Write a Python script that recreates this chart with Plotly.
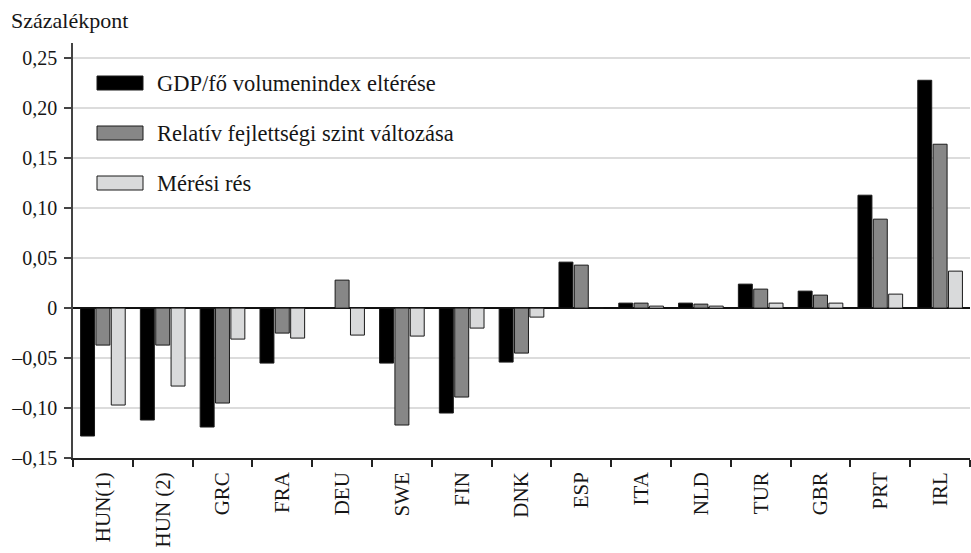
import plotly.graph_objects as go

# ---- data ----
categories = ["HUN(1)", "HUN (2)", "GRC", "FRA", "DEU", "SWE", "FIN", "DNK",
              "ESP", "ITA", "NLD", "TUR", "GBR", "PRT", "IRL"]
gdp_volume_gap = [-0.128, -0.112, -0.119, -0.055, 0.0, -0.055, -0.105, -0.054,
                  0.046, 0.005, 0.005, 0.024, 0.017, 0.113, 0.228]
relative_dev_change = [-0.037, -0.037, -0.095, -0.025, 0.028, -0.117, -0.089, -0.045,
                       0.043, 0.005, 0.004, 0.019, 0.013, 0.089, 0.164]
measurement_gap = [-0.097, -0.078, -0.031, -0.030, -0.027, -0.028, -0.020, -0.009,
                   0.0, 0.002, 0.002, 0.005, 0.005, 0.014, 0.037]
series_names = ["GDP/fő volumenindex eltérése",
                "Relatív fejlettségi szint változása",
                "Mérési rés"]
y_tickvals = [0.25, 0.20, 0.15, 0.10, 0.05, 0.0, -0.05, -0.10, -0.15]
y_ticktext = ["0,25", "0,20", "0,15", "0,10", "0,05", "0", "–0,05", "–0,10", "–0,15"]
y_title = "Százalékpont"

# ---- style ----
colors = ["#000000", "#878787", "#d9dadb"]
FONT = "Liberation Serif, Times New Roman, DejaVu Serif, serif"
TXT = "#161616"
W, H = 971, 553
L, R, T, B = 73, 1, 43, 95

fig = go.Figure()
for name, vals, col in zip(series_names,
                           [gdp_volume_gap, relative_dev_change, measurement_gap],
                           colors):
    fig.add_trace(go.Bar(x=categories, y=vals, name=name, showlegend=False,
                         marker=dict(color=col, line=dict(color="#1a1a1a", width=1))))

def px_x(px):
    return (px - L) / (W - L - R)

def px_y(py):
    return (H - B - py) / (H - T - B)

# custom legend (swatch + label)
shapes = []
annotations = []
for i, (name, col) in enumerate(zip(series_names, colors)):
    cy = 83 + 50 * i
    shapes.append(dict(type="rect", xref="paper", yref="paper",
                       x0=px_x(97), x1=px_x(143), y0=px_y(cy + 7), y1=px_y(cy - 7),
                       fillcolor=col, line=dict(color="#1a1a1a", width=1)))
    annotations.append(dict(xref="paper", yref="paper", x=px_x(155), y=px_y(cy),
                            xanchor="left", yanchor="middle", showarrow=False,
                            text=name, font=dict(family=FONT, size=22.5, color=TXT)))

fig.update_layout(
    width=W, height=H,
    margin=dict(l=L, r=R, t=T, b=B, autoexpand=False),
    paper_bgcolor="white", plot_bgcolor="white",
    barmode="group", bargap=0.23, bargroupgap=0.09,
    font=dict(family=FONT, size=20, color=TXT),
    title=dict(text=y_title, xref="container", yref="container",
               x=11 / W, y=1 - 13 / H, xanchor="left", yanchor="top",
               font=dict(family=FONT, size=22, color=TXT)),
    shapes=shapes, annotations=annotations,
    xaxis=dict(type="category", tickangle=-90, tickson="boundaries",
               ticks="outside", ticklen=7, tickcolor="#222", tickwidth=1.5,
               showline=True, linecolor="#222", linewidth=1.5, ticklabelstandoff=4,
               showgrid=False, tickfont=dict(family=FONT, size=21, color=TXT)),
    yaxis=dict(range=[-0.15, 0.2653], tickvals=y_tickvals, ticktext=y_ticktext,
               ticks="outside", ticklen=7, tickcolor="#444", tickwidth=1.5,
               showline=True, linecolor="#444", linewidth=1.5, ticklabelstandoff=3,
               showgrid=True, gridcolor="#dcdcdc", gridwidth=1.5,
               zeroline=True, zerolinecolor="#111", zerolinewidth=1.5,
               tickfont=dict(family=FONT, size=20, color=TXT)),
)

fig.write_html("out.html", config={"displayModeBar": False},
               post_script="document.body.style.margin='0';")
